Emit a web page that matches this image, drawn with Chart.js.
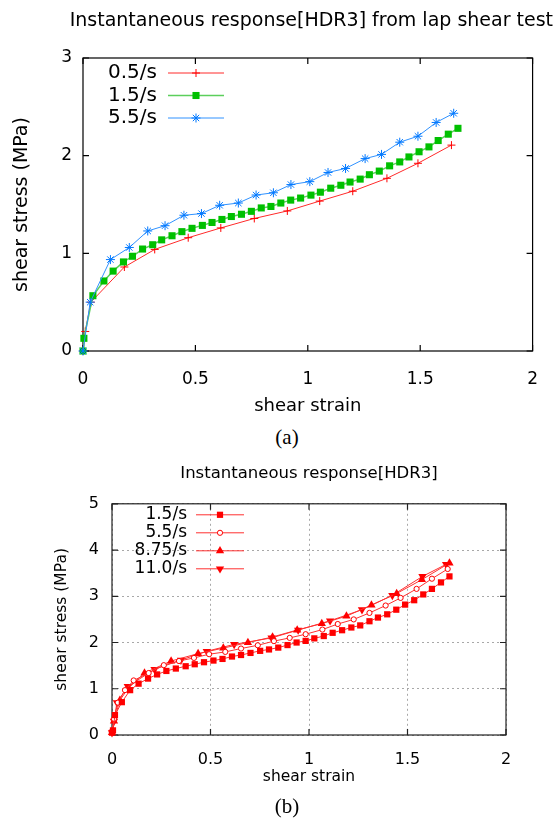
<!DOCTYPE html>
<html>
<head>
<meta charset="utf-8">
<script src="https://cdn.jsdelivr.net/npm/chart.js@4.4.0/dist/chart.umd.min.js"></script>
<style>
  html, body { margin: 0; padding: 0; background: #fff; }
  body { width: 556px; height: 819px; position: relative; overflow: hidden; }
  .wrap { position: absolute; left: 0; width: 556px; }
  #wrapA { top: 0; height: 420px; }
  #wrapB { top: 450px; height: 345px; }
  .cap { position: absolute; left: 0; width: 574px; text-align: center;
         font-family: "Liberation Serif", "DejaVu Serif", serif; font-size: 21px; line-height: 24px; }
</style>
</head>
<body>
<div class="wrap" id="wrapA"><canvas id="chartA"></canvas></div>
<div class="cap" style="top:425px">(a)</div>
<div class="wrap" id="wrapB"><canvas id="chartB"></canvas></div>
<div class="cap" style="top:794px">(b)</div>

<script>
// ---- chart (a): instantaneous response, lap shear test ----
const titleA = 'Instantaneous response[HDR3] from lap shear test';
const xTicksA = [0, 0.5, 1, 1.5, 2];
const xLabelsA = ['0', '0.5', '1', '1.5', '2'];
const yTicksA = [0, 1, 2, 3];
const yLabelsA = ['0', '1', '2', '3'];

const strain05 = [0, 0.01, 0.035, 0.184, 0.319, 0.468, 0.613, 0.762, 0.909, 1.053, 1.2, 1.352, 1.49, 1.639];
const stress05 = [0, 0.2, 0.5, 0.86, 1.04, 1.16, 1.26, 1.357, 1.434, 1.535, 1.636, 1.768, 1.922, 2.108];

const strain15a = [0, 0.004, 0.044, 0.093, 0.134, 0.18, 0.22, 0.265, 0.31, 0.35,
  0.396, 0.44, 0.485, 0.531, 0.574, 0.618, 0.66, 0.705, 0.749, 0.793,
  0.836, 0.88, 0.924, 0.968, 1.014, 1.056, 1.102, 1.147, 1.188, 1.233,
  1.274, 1.318, 1.364, 1.409, 1.45, 1.495, 1.539, 1.58, 1.625, 1.668];
const stress15a = [0, 0.13, 0.566, 0.717, 0.818, 0.912, 0.97, 1.044, 1.088, 1.138,
  1.18, 1.222, 1.256, 1.286, 1.316, 1.347, 1.377, 1.40, 1.43, 1.465,
  1.48, 1.515, 1.545, 1.566, 1.596, 1.626, 1.667, 1.697, 1.73, 1.76,
  1.805, 1.842, 1.896, 1.936, 1.987, 2.04, 2.09, 2.155, 2.22, 2.28];

const strain55a = [0, 0.032, 0.122, 0.206, 0.288, 0.365, 0.449, 0.527, 0.608, 0.691,
  0.77, 0.847, 0.925, 1.009, 1.09, 1.168, 1.255, 1.328, 1.409, 1.49, 1.571, 1.649];
const stress55a = [0, 0.5, 0.936, 1.06, 1.229, 1.283, 1.39, 1.407, 1.492, 1.515,
  1.597, 1.62, 1.704, 1.734, 1.828, 1.869, 1.97, 2.013, 2.138, 2.199, 2.34, 2.434];

// ---- chart (b): instantaneous response ----
const titleB = 'Instantaneous response[HDR3]';
const xTicksB = [0, 0.5, 1, 1.5, 2];
const xLabelsB = ['0', '0.5', '1', '1.5', '2'];
const yTicksB = [0, 1, 2, 3, 4, 5];
const yLabelsB = ['0', '1', '2', '3', '4', '5'];

const strain15b = [0, 0.005, 0.015, 0.05, 0.092, 0.135, 0.183, 0.229, 0.276, 0.324,
  0.374, 0.42, 0.467, 0.515, 0.561, 0.609, 0.655, 0.703, 0.752, 0.797,
  0.844, 0.891, 0.937, 0.983, 1.027, 1.075, 1.12, 1.168, 1.215, 1.26,
  1.307, 1.35, 1.397, 1.443, 1.488, 1.534, 1.58, 1.624, 1.67, 1.713];
const stress15b = [0.05, 0.1, 0.43, 0.71, 0.97, 1.11, 1.22, 1.31, 1.385, 1.437,
  1.487, 1.53, 1.574, 1.61, 1.645, 1.697, 1.73, 1.775, 1.82, 1.85,
  1.89, 1.945, 2.0, 2.035, 2.09, 2.14, 2.21, 2.266, 2.325, 2.37,
  2.46, 2.54, 2.61, 2.71, 2.82, 2.915, 3.04, 3.16, 3.30, 3.43];

const strain55b = [0, 0.01, 0.03, 0.066, 0.11, 0.186, 0.263, 0.34, 0.416, 0.493,
  0.575, 0.655, 0.74, 0.822, 0.902, 0.983, 1.068, 1.146, 1.227, 1.307,
  1.389, 1.465, 1.546, 1.624, 1.704];
const stress55b = [0.05, 0.35, 0.7, 0.97, 1.18, 1.34, 1.51, 1.6, 1.667, 1.747,
  1.797, 1.87, 1.94, 2.03, 2.1, 2.18, 2.28, 2.40, 2.50, 2.64,
  2.80, 2.965, 3.16, 3.38, 3.59];

const strain875 = [0, 0.01, 0.04, 0.08, 0.165, 0.3, 0.437, 0.565, 0.69, 0.815, 0.94, 1.065, 1.19, 1.317, 1.445, 1.573, 1.713];
const stress875 = [0.05, 0.3, 0.75, 1.0, 1.34, 1.6, 1.76, 1.88, 2.0, 2.12, 2.27, 2.41, 2.57, 2.81, 3.06, 3.36, 3.72];

const strain110 = [0, 0.01, 0.025, 0.08, 0.216, 0.35, 0.481, 0.62, 0.81, 0.945, 1.107, 1.269, 1.423, 1.576, 1.696];
const stress110 = [0.05, 0.3, 0.7, 1.05, 1.42, 1.62, 1.81, 1.96, 2.1, 2.27, 2.47, 2.71, 3.02, 3.43, 3.69];

const FONT = "'DejaVu Sans', Verdana, sans-serif";

function pts(xs, ys) {
  return xs.map((x, i) => ({ x: x, y: ys[i] }));
}

// box round the plot with ticks pointing inwards (gnuplot style)
const frame = {
  id: 'frame',
  beforeDatasetsDraw(chart, args, o) {
    const { ctx, chartArea: a, scales: { x, y } } = chart;
    ctx.save();
    ctx.strokeStyle = o.color;
    ctx.lineWidth = o.width;
    ctx.strokeRect(a.left, a.top, a.right - a.left, a.bottom - a.top);
    ctx.beginPath();
    x.ticks.forEach(t => {
      const px = x.getPixelForValue(t.value);
      ctx.moveTo(px, a.bottom); ctx.lineTo(px, a.bottom - o.tick);
      ctx.moveTo(px, a.top); ctx.lineTo(px, a.top + o.tick);
    });
    y.ticks.forEach(t => {
      const py = y.getPixelForValue(t.value);
      ctx.moveTo(a.left, py); ctx.lineTo(a.left + o.tick, py);
      ctx.moveTo(a.right, py); ctx.lineTo(a.right - o.tick, py);
    });
    ctx.stroke();
    ctx.restore();
  }
};

// key inside the plot: label, then a line sample with the marker in its middle
const keyBox = {
  id: 'keyBox',
  afterDatasetsDraw(chart, args, o) {
    const { ctx, chartArea: a } = chart;
    ctx.save();
    ctx.font = o.font;
    ctx.textAlign = 'right';
    ctx.textBaseline = 'middle';
    chart.data.datasets.forEach((ds, i) => {
      const yy = a.top + o.top + i * o.row;
      ctx.fillStyle = '#000';
      ctx.fillText(ds.label, a.left + o.textX, yy);
      ctx.strokeStyle = ds.borderColor;
      ctx.lineWidth = o.lineWidth || ds.borderWidth;
      ctx.beginPath();
      ctx.moveTo(a.left + o.x1, yy);
      ctx.lineTo(a.left + o.x2, yy);
      ctx.stroke();
      ctx.fillStyle = ds.pointBackgroundColor;
      ctx.strokeStyle = ds.pointBorderColor;
      ctx.lineWidth = ds.pointBorderWidth;
      Chart.helpers.drawPoint(ctx, {
        pointStyle: ds.pointStyle, radius: ds.pointRadius,
        rotation: ds.pointRotation || 0, borderWidth: ds.pointBorderWidth
      }, a.left + (o.x1 + o.x2) / 2, yy);
    });
    ctx.restore();
  }
};

function axis(ticks, labels, cfg) {
  return {
    type: 'linear',
    min: ticks[0],
    max: ticks[ticks.length - 1],
    afterBuildTicks: s => { s.ticks = ticks.map(v => ({ value: v })); },
    afterFit: s => { if (cfg.width) s.width = cfg.width; if (cfg.height) s.height = cfg.height; },
    grid: cfg.grid,
    border: { display: false, dash: [2, 3] },
    ticks: {
      callback: (v, i) => labels[i],
      color: '#000',
      padding: cfg.pad,
      maxRotation: 0,
      autoSkip: false,
      font: { family: FONT, size: cfg.tickSize }
    },
    title: {
      display: true,
      text: cfg.title,
      color: '#000',
      font: { family: FONT, size: cfg.titleSize },
      padding: cfg.titlePad
    }
  };
}

// empty strip on the right of plot (a), so the title can run past the plot box
const spacerRight = {
  type: 'linear',
  position: 'right',
  display: true,
  grid: { display: false, drawTicks: false },
  border: { display: false },
  ticks: { display: false },
  afterFit: s => { s.width = 13; }
};

function series(label, xs, ys, st) {
  return Object.assign({
    label: label,
    data: pts(xs, ys),
    borderWidth: 1,
    pointBorderWidth: 1,
    pointHoverRadius: 0,
    tension: 0,
    fill: false,
    clip: false
  }, st);
}

new Chart(document.getElementById('chartA'), {
  type: 'line',
  data: {
    datasets: [
      series('0.5/s', strain05, stress05, {
        borderColor: '#ff2a2a', pointStyle: 'cross', pointRadius: 4,
        pointBorderColor: '#ff0000', pointBackgroundColor: '#ff0000', order: 2
      }),
      series('1.5/s', strain15a, stress15a, {
        borderColor: '#5ccf5c', borderWidth: 1.5, pointStyle: 'rect', pointRadius: 5,
        pointBorderWidth: 0, pointBorderColor: '#00c000', pointBackgroundColor: '#00c000', order: 1
      }),
      series('5.5/s', strain55a, stress55a, {
        borderColor: '#3092ff', pointStyle: 'star', pointRadius: 4.5,
        pointBorderColor: '#0078ff', pointBackgroundColor: '#0078ff', order: 0
      })
    ]
  },
  options: {
    responsive: true,
    maintainAspectRatio: false,
    animation: false,
    events: [],
    layout: { padding: { left: 0, right: 3, top: 0, bottom: 0 } },
    scales: {
      x: axis(xTicksA, xLabelsA, {
        height: 69, grid: { display: false, drawTicks: false }, pad: 18,
        tickSize: 17, title: 'shear strain', titleSize: 18, titlePad: { top: 0, bottom: 3 }
      }),
      y: axis(yTicksA, yLabelsA, {
        width: 83, grid: { display: false, drawTicks: false }, pad: 11,
        tickSize: 17, title: 'shear stress (MPa)', titleSize: 19, titlePad: { top: 10.5, bottom: 0 }
      }),
      yRight: spacerRight
    },
    plugins: {
      legend: { display: false },
      tooltip: { enabled: false },
      title: {
        display: true, text: titleA, color: '#000', align: 'end',
        font: { family: FONT, size: 19, weight: 'normal' },
        padding: { top: 10, bottom: 25.2 }
      },
      frame: { color: '#000', width: 1.2, tick: 6 },
      keyBox: { font: '20px ' + FONT, textX: 74, x1: 85, x2: 141, top: 15, row: 22.5 }
    }
  },
  plugins: [frame, keyBox]
});

new Chart(document.getElementById('chartB'), {
  type: 'line',
  data: {
    datasets: [
      series('1.5/s', strain15b, stress15b, {
        borderColor: '#ff3030', pointStyle: 'rect', pointRadius: 4.4,
        pointBorderWidth: 0, pointBorderColor: '#ff0000', pointBackgroundColor: '#ff0000'
      }),
      series('5.5/s', strain55b, stress55b, {
        borderColor: '#ff3030', pointStyle: 'circle', pointRadius: 2.6,
        pointBorderColor: '#ff0000', pointBackgroundColor: '#ffffff'
      }),
      series('8.75/s', strain875, stress875, {
        borderColor: '#ff3030', pointStyle: 'triangle', pointRadius: 4.8,
        pointBorderWidth: 0, pointBorderColor: '#ff0000', pointBackgroundColor: '#ff0000'
      }),
      series('11.0/s', strain110, stress110, {
        borderColor: '#ff3030', pointStyle: 'triangle', pointRadius: 4.8, pointRotation: 180,
        pointBorderWidth: 0, pointBorderColor: '#ff0000', pointBackgroundColor: '#ff0000'
      })
    ]
  },
  options: {
    responsive: true,
    maintainAspectRatio: false,
    animation: false,
    events: [],
    layout: { padding: { left: 0, right: 50, top: 0, bottom: 0 } },
    scales: {
      x: axis(xTicksB, xLabelsB, {
        height: 60, grid: { color: '#a8a8a8', drawTicks: false }, pad: 15,
        tickSize: 16, title: 'shear strain', titleSize: 15.5, titlePad: { top: 0, bottom: 9 }
      }),
      y: axis(yTicksB, yLabelsB, {
        width: 112, grid: { color: '#a8a8a8', drawTicks: false }, pad: 13,
        tickSize: 16, title: 'shear stress (MPa)', titleSize: 15.5, titlePad: { top: 53, bottom: 0 }
      })
    },
    plugins: {
      legend: { display: false },
      tooltip: { enabled: false },
      title: {
        display: true, text: titleB, color: '#000', fullSize: false,
        font: { family: FONT, size: 16.5, weight: 'normal' },
        padding: { top: 14, bottom: 20 }
      },
      frame: { color: '#222', width: 1.2, tick: 6 },
      keyBox: { font: '17px ' + FONT, textX: 75, x1: 84, x2: 132, top: 11, row: 18 }
    }
  },
  plugins: [frame, keyBox]
});
</script>
</body>
</html>
